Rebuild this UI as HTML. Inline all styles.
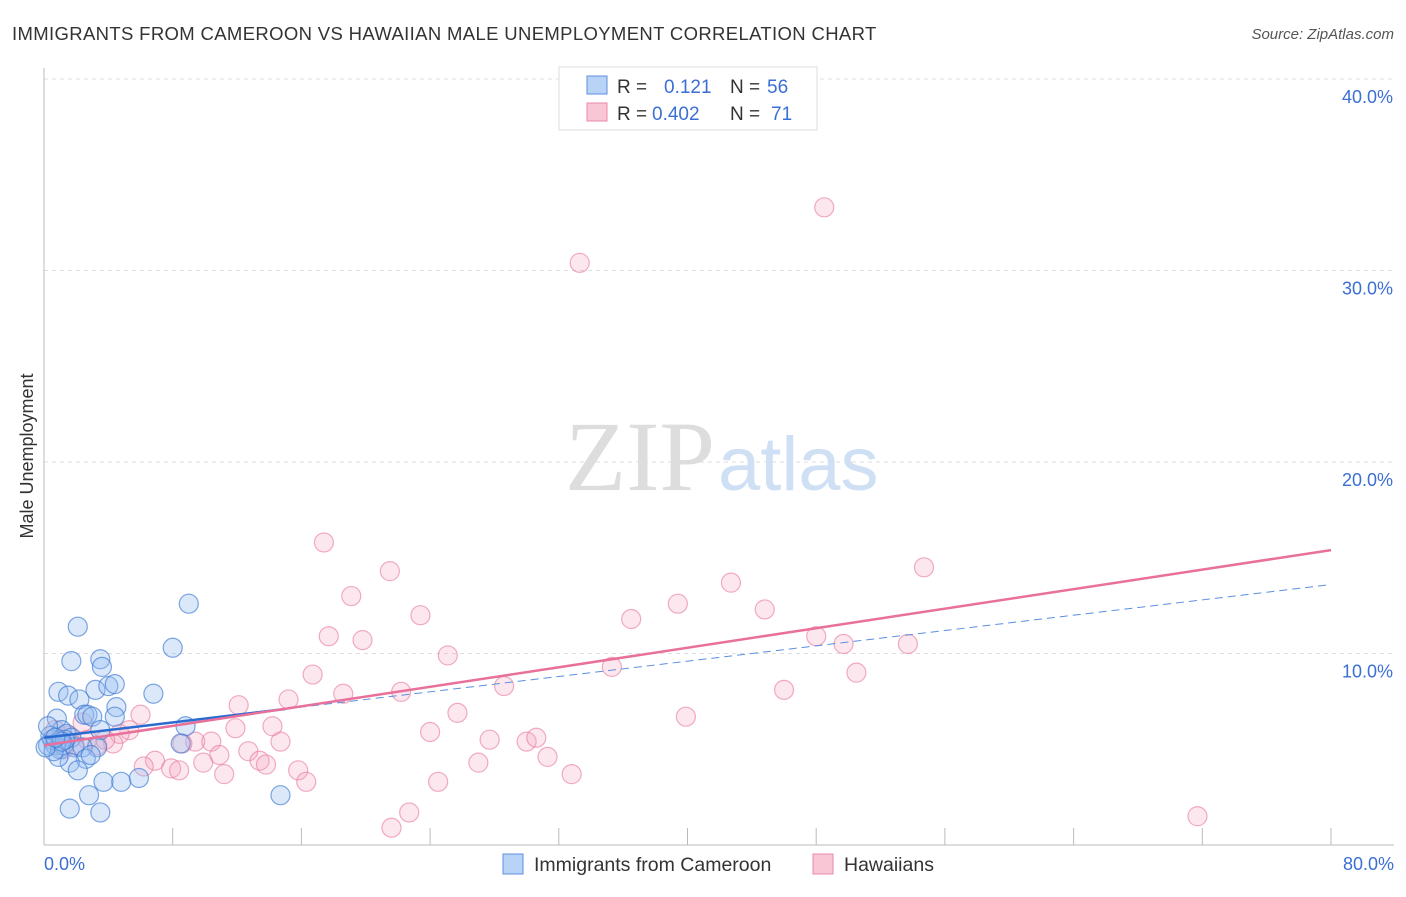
<!DOCTYPE html>
<html><head><meta charset="utf-8"><style>
body{margin:0;background:#fff;font-family:"Liberation Sans",sans-serif;}
svg text{font-family:"Liberation Sans",sans-serif;}
</style></head><body>
<svg width="1406" height="892" xmlns="http://www.w3.org/2000/svg">
<text x="12" y="40" font-size="18.5" fill="#333" letter-spacing="0.35">IMMIGRANTS FROM CAMEROON VS HAWAIIAN MALE UNEMPLOYMENT CORRELATION CHART</text>
<text x="1394" y="39" font-size="15" fill="#555" font-style="italic" text-anchor="end">Source: ZipAtlas.com</text>
<g id="grid"></g>
<g>
<text x="715" y="490" font-size="100" fill="#ddd" text-anchor="end" style="font-family:'Liberation Serif',serif">ZIP</text>
<text x="718" y="490" font-size="76" fill="#cfe0f5">atlas</text>
</g>
<line x1="44" y1="68" x2="44" y2="845" stroke="#bbb"/>
<line x1="44" y1="845" x2="1394" y2="845" stroke="#bbb"/>
<g id="xticks"></g>
<g id="pts"></g>
<g id="trends"></g>
<text x="44" y="870" font-size="18" fill="#3b6fd4">0.0%</text>
<text x="1394" y="870" font-size="18" fill="#3b6fd4" text-anchor="end">80.0%</text>
<text transform="translate(33,456) rotate(-90)" font-size="18" fill="#333" text-anchor="middle">Male Unemployment</text>
<g>
<rect x="559" y="67" width="258" height="63" fill="#fff" stroke="#ddd"/>
<rect x="587" y="76" width="20" height="18" fill="#b8d3f5" stroke="#5b8fdf"/>
<rect x="587" y="103" width="20" height="18" fill="#f8c6d5" stroke="#e88aa8"/>
<text x="617" y="93" font-size="19" fill="#333">R = </text><text x="664" y="93" font-size="19" fill="#3b6fd4">0.121</text>
<text x="730" y="93" font-size="19" fill="#333">N = </text><text x="767" y="93" font-size="19" fill="#3b6fd4">56</text>
<text x="617" y="120" font-size="19" fill="#333">R = </text><text x="652" y="120" font-size="19" fill="#3b6fd4">0.402</text>
<text x="730" y="120" font-size="19" fill="#333">N = </text><text x="771" y="120" font-size="19" fill="#3b6fd4">71</text>
</g>
<g>
<rect x="503" y="854" width="20" height="20" fill="#b8d3f5" stroke="#5b8fdf"/>
<text x="534" y="871" font-size="19.5" fill="#333">Immigrants from Cameroon</text>
<rect x="813" y="854" width="20" height="20" fill="#f8c6d5" stroke="#e88aa8"/>
<text x="844" y="871" font-size="19.5" fill="#333">Hawaiians</text>
</g>
</svg>
<script>
const yTicks=[10,20,30,40];
const yTickLabels=["10.0%","20.0%","30.0%","40.0%"];
const xTicks=[0,8,16,24,32,40,48,56,64,72,80];
const blueX=[9.0,2.1,8.0,1.7,3.5,3.6,0.9,1.5,3.2,4.0,4.4,6.8,2.2,2.5,2.7,4.5,4.4,3.0,0.8,8.8,1.1,1.4,1.7,3.5,8.5,3.3,0.5,0.25,0.7,1.0,1.2,1.9,2.4,2.6,1.6,2.1,3.7,4.8,5.9,2.8,1.6,3.5,14.7,0.4,0.9,1.3,0.6,0.1,0.25,2.9,1.1,0.7];
const blueY=[12.6,11.4,10.3,9.6,9.7,9.3,8.0,7.8,8.1,8.3,8.4,7.9,7.6,6.8,6.8,7.2,6.7,6.7,6.6,6.2,6.0,5.8,5.6,6.0,5.3,5.1,5.5,5.2,5.2,5.0,5.2,5.1,5.1,4.5,4.3,3.9,3.3,3.3,3.5,2.6,1.9,1.7,2.6,5.7,4.6,5.5,4.9,5.1,6.2,4.7,5.4,5.6];
const pinkX=[48.5,33.3,17.4,21.5,54.7,42.7,19.1,39.4,44.8,23.4,36.5,17.7,19.8,48.0,49.7,53.7,25.1,35.3,16.7,50.5,28.6,46.0,18.6,22.2,15.2,12.1,6.0,25.7,39.9,2.4,11.9,14.2,24.0,5.3,4.7,9.4,10.4,8.6,14.7,27.7,30.0,30.6,4.3,3.3,12.7,10.9,13.4,13.8,31.3,6.9,7.9,8.4,9.9,11.2,15.8,16.3,27.0,32.8,24.5,6.2,22.7,21.6,71.7,1.0,1.5,1.9,2.7,0.7,3.8,1.2];
const pinkY=[33.3,30.4,15.8,14.3,14.5,13.7,13.0,12.6,12.3,12.0,11.8,10.9,10.7,10.9,10.5,10.5,9.9,9.3,8.9,9.0,8.3,8.1,7.9,8.0,7.6,7.3,6.8,6.9,6.7,6.4,6.1,6.2,5.9,6.0,5.8,5.4,5.4,5.3,5.4,5.5,5.4,5.6,5.3,5.2,4.9,4.7,4.4,4.2,4.6,4.4,4.0,3.9,4.3,3.7,3.9,3.3,4.3,3.7,3.3,4.1,1.7,0.9,1.5,5.5,5.7,5.2,5.5,6.0,5.5,5.0];
const blueTrend=[5.6,0.1,15];
const pinkTrend=[5.2,0.1275];
const X=v=>44+v*(1287/80), Y=v=>845-v*(766/40);
const NS="http://www.w3.org/2000/svg";
function mk(t,a,p){const e=document.createElementNS(NS,t);for(const k in a)e.setAttribute(k,a[k]);p.appendChild(e);return e;}
const grid=document.getElementById('grid');
yTicks.forEach((t,i)=>{
 const l=mk('line',{x1:44,x2:1394,y1:Y(t),y2:Y(t),stroke:'#ddd','stroke-dasharray':'4,4'},grid);
 
 
 const tx=mk('text',{x:1393,y:Y(t)+24,'font-size':18,fill:'#3b6fd4','text-anchor':'end'},grid);
 tx.textContent=yTickLabels[i];
 
 
});
const xt=document.getElementById('xticks');
xTicks.forEach(t=>{
 const l=mk('line',{x1:X(t),x2:X(t),y1:828,y2:845,stroke:'#bbb'},xt);
 
 
});
const pts=document.getElementById('pts');
pinkX.forEach((x,i)=>{
 const c=mk('circle',{cx:X(x),cy:Y(pinkY[i]),r:9.5,fill:'rgba(244,160,188,0.25)',stroke:'rgba(232,120,155,0.6)','stroke-width':1.2},pts);
 
 
});
blueX.forEach((x,i)=>{
 const c=mk('circle',{cx:X(x),cy:Y(blueY[i]),r:9.5,fill:'rgba(150,190,240,0.35)',stroke:'rgba(60,120,210,0.65)','stroke-width':1.2},pts);
 
 
});
const tr=document.getElementById('trends');
const bf=v=>blueTrend[0]+blueTrend[1]*v, pf=v=>pinkTrend[0]+pinkTrend[1]*v;
let l=mk('line',{x1:X(blueTrend[2]),y1:Y(bf(blueTrend[2])),x2:X(80),y2:Y(bf(80)),stroke:'#5b8fdf','stroke-width':1,'stroke-dasharray':'8,5'},tr);


l=mk('line',{x1:X(0),y1:Y(bf(0)),x2:X(blueTrend[2]),y2:Y(bf(blueTrend[2])),stroke:'#2a6bd0','stroke-width':2.5},tr);


l=mk('line',{x1:X(0),y1:Y(pf(0)),x2:X(80),y2:Y(pf(80)),stroke:'#e8709a','stroke-width':2.5},tr);


</script>
</body></html>
